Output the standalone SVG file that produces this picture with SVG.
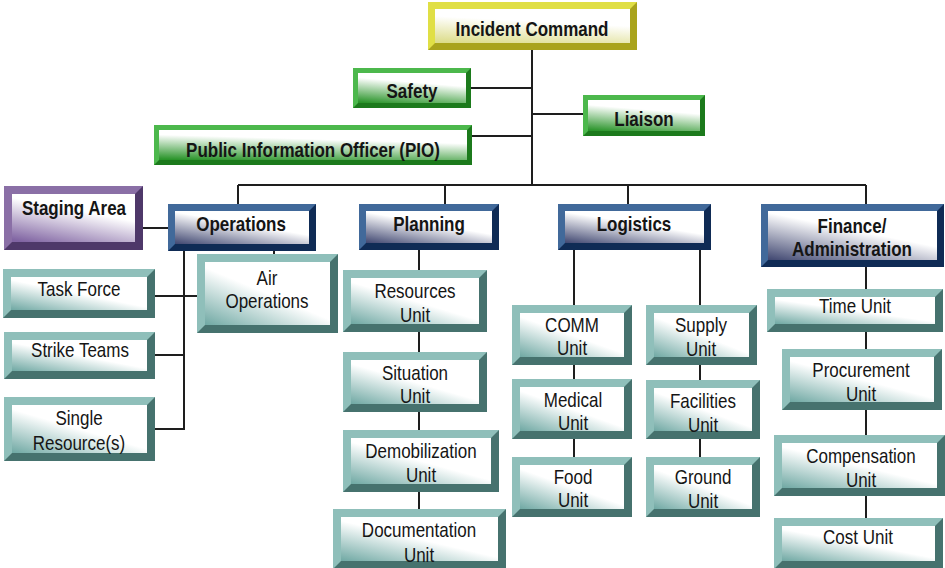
<svg xmlns="http://www.w3.org/2000/svg" width="945" height="568" viewBox="0 0 945 568">
<defs>
<linearGradient id="gTeal" x1="0" y1="1" x2="0.75" y2="0.1"><stop offset="0" stop-color="#6fa8a3"/><stop offset="0.6" stop-color="#ffffff"/><stop offset="1" stop-color="#ffffff"/></linearGradient>
<linearGradient id="gNavy" x1="0" y1="1" x2="0.7" y2="0"><stop offset="0" stop-color="#3f4670"/><stop offset="0.65" stop-color="#ffffff"/><stop offset="1" stop-color="#ffffff"/></linearGradient>
<linearGradient id="gGreen" x1="0.1" y1="1" x2="0.4" y2="0"><stop offset="0" stop-color="#2a942a"/><stop offset="0.75" stop-color="#ffffff"/><stop offset="1" stop-color="#ffffff"/></linearGradient>
<linearGradient id="gYellow" x1="0.1" y1="1" x2="0.4" y2="0"><stop offset="0" stop-color="#dcdc8a"/><stop offset="0.7" stop-color="#ffffff"/><stop offset="1" stop-color="#ffffff"/></linearGradient>
<linearGradient id="gPurple" x1="0.1" y1="1" x2="0.6" y2="0"><stop offset="0" stop-color="#8064a2"/><stop offset="0.7" stop-color="#ffffff"/><stop offset="1" stop-color="#ffffff"/></linearGradient>
</defs>
<style>
.teal .o{fill:#46726e}.teal .l{fill:#8fbfba}.teal .f{fill:url(#gTeal)}
.navy .o{fill:#0f2b55}.navy .l{fill:#41699a}.navy .f{fill:url(#gNavy)}
.green .o{fill:#1c7a1c}.green .l{fill:#4cb84c}.green .f{fill:url(#gGreen)}
.yellow .o{fill:#a9a31c}.yellow .l{fill:#e0df45}.yellow .f{fill:url(#gYellow)}
.purple .o{fill:#4e3869}.purple .l{fill:#8a6fa6}.purple .f{fill:url(#gPurple)}
text{font-family:"Liberation Sans",Arial,sans-serif;font-size:20px;fill:#151515;text-anchor:middle}
text.b{font-weight:bold}
#connectors path{fill:none;stroke:#1e1e1e;stroke-width:2}
</style>
<rect width="945" height="568" fill="#ffffff"/>
<g id="connectors">
<path d="M532 50V185"/>
<path d="M471 88H532"/>
<path d="M532 114H583"/>
<path d="M472 136H532"/>
<path d="M238 185H866"/>
<path d="M238 185V204M445 185V204M628 185V204M866 185V204"/>
<path d="M143 228H168"/>
<path d="M184 251V430"/>
<path d="M155 296H197"/>
<path d="M155 355H184"/>
<path d="M155 429H184"/>
<path d="M274 251V254"/>
<path d="M419 250V509"/>
<path d="M574 250V457"/>
<path d="M700 250V457"/>
<path d="M866 267V518"/>
</g>
<g id="incident-command" class="yellow"><rect class="o" x="428" y="2" width="209" height="48"/><polygon class="l" points="428,2 637,2 630,9 435,9 435,43 428,50"/><rect class="f" x="435" y="9" width="195" height="34"/><text class="b" transform="translate(532 36) scale(.85 1)">Incident Command</text></g>
<g id="safety" class="green"><rect class="o" x="353" y="68" width="118" height="40"/><polygon class="l" points="353,68 471,68 466,73 358,73 358,103 353,108"/><rect class="f" x="358" y="73" width="108" height="30"/><text class="b" transform="translate(412 98) scale(.85 1)">Safety</text></g>
<g id="liaison" class="green"><rect class="o" x="583" y="95" width="122" height="41"/><polygon class="l" points="583,95 705,95 700,100 588,100 588,131 583,136"/><rect class="f" x="588" y="100" width="112" height="31"/><text class="b" transform="translate(644 126) scale(.85 1)">Liaison</text></g>
<g id="pio" class="green"><rect class="o" x="154" y="125" width="318" height="40"/><polygon class="l" points="154,125 472,125 467,130 159,130 159,160 154,165"/><rect class="f" x="159" y="130" width="308" height="30"/><text class="b" transform="translate(313 157) scale(.85 1)">Public Information Officer (PIO)</text></g>
<g id="staging-area" class="purple"><rect class="o" x="4" y="186" width="139" height="64"/><polygon class="l" points="4,186 143,186 135,194 12,194 12,242 4,250"/><rect class="f" x="12" y="194" width="123" height="48"/><text class="b" transform="translate(74 215) scale(.85 1)">Staging Area</text></g>
<g id="operations" class="navy"><rect class="o" x="168" y="204" width="148" height="47"/><polygon class="l" points="168,204 316,204 309,211 175,211 175,244 168,251"/><rect class="f" x="175" y="211" width="134" height="33"/><text class="b" transform="translate(241 231) scale(.85 1)">Operations</text></g>
<g id="planning" class="navy"><rect class="o" x="359" y="204" width="140" height="46"/><polygon class="l" points="359,204 499,204 492,211 366,211 366,243 359,250"/><rect class="f" x="366" y="211" width="126" height="32"/><text class="b" transform="translate(429 231) scale(.85 1)">Planning</text></g>
<g id="logistics" class="navy"><rect class="o" x="558" y="204" width="153" height="46"/><polygon class="l" points="558,204 711,204 704,211 565,211 565,243 558,250"/><rect class="f" x="565" y="211" width="139" height="32"/><text class="b" transform="translate(634 231) scale(.85 1)">Logistics</text></g>
<g id="finance-administration" class="navy"><rect class="o" x="761" y="204" width="183" height="63"/><polygon class="l" points="761,204 944,204 937,211 768,211 768,260 761,267"/><rect class="f" x="768" y="211" width="169" height="49"/><text class="b" transform="translate(852 233) scale(.85 1)"><tspan x="0">Finance/</tspan><tspan x="0" dy="23">Administration</tspan></text></g>
<g id="air-operations" class="teal"><rect class="o" x="197" y="254" width="141" height="79"/><polygon class="l" points="197,254 338,254 330,262 205,262 205,325 197,333"/><rect class="f" x="205" y="262" width="125" height="63"/><text transform="translate(267 285) scale(.85 1)"><tspan x="0">Air</tspan><tspan x="0" dy="23">Operations</tspan></text></g>
<g id="task-force" class="teal"><rect class="o" x="3" y="269" width="152" height="49"/><polygon class="l" points="3,269 155,269 147,277 11,277 11,310 3,318"/><rect class="f" x="11" y="277" width="136" height="33"/><text transform="translate(79 296) scale(.85 1)">Task Force</text></g>
<g id="strike-teams" class="teal"><rect class="o" x="4" y="332" width="151" height="47"/><polygon class="l" points="4,332 155,332 147,340 12,340 12,371 4,379"/><rect class="f" x="12" y="340" width="135" height="31"/><text transform="translate(80 357) scale(.85 1)">Strike Teams</text></g>
<g id="single-resources" class="teal"><rect class="o" x="4" y="397" width="151" height="64"/><polygon class="l" points="4,397 155,397 147,405 12,405 12,453 4,461"/><rect class="f" x="12" y="405" width="135" height="48"/><text transform="translate(79 425) scale(.85 1)"><tspan x="0">Single</tspan><tspan x="0" dy="25">Resource(s)</tspan></text></g>
<g id="resources-unit" class="teal"><rect class="o" x="343" y="270" width="144" height="62"/><polygon class="l" points="343,270 487,270 479,278 351,278 351,324 343,332"/><rect class="f" x="351" y="278" width="128" height="46"/><text transform="translate(415 298) scale(.85 1)"><tspan x="0">Resources</tspan><tspan x="0" dy="24">Unit</tspan></text></g>
<g id="situation-unit" class="teal"><rect class="o" x="343" y="352" width="144" height="60"/><polygon class="l" points="343,352 487,352 479,360 351,360 351,404 343,412"/><rect class="f" x="351" y="360" width="128" height="44"/><text transform="translate(415 380) scale(.85 1)"><tspan x="0">Situation</tspan><tspan x="0" dy="23">Unit</tspan></text></g>
<g id="demobilization-unit" class="teal"><rect class="o" x="343" y="430" width="156" height="62"/><polygon class="l" points="343,430 499,430 491,438 351,438 351,484 343,492"/><rect class="f" x="351" y="438" width="140" height="46"/><text transform="translate(421 458) scale(.85 1)"><tspan x="0">Demobilization</tspan><tspan x="0" dy="24">Unit</tspan></text></g>
<g id="documentation-unit" class="teal"><rect class="o" x="333" y="509" width="173" height="60"/><polygon class="l" points="333,509 506,509 498,517 341,517 341,561 333,569"/><rect class="f" x="341" y="517" width="157" height="44"/><text transform="translate(419 537) scale(.85 1)"><tspan x="0">Documentation</tspan><tspan x="0" dy="25">Unit</tspan></text></g>
<g id="comm-unit" class="teal"><rect class="o" x="512" y="305" width="120" height="60"/><polygon class="l" points="512,305 632,305 624,313 520,313 520,357 512,365"/><rect class="f" x="520" y="313" width="104" height="44"/><text transform="translate(572 332) scale(.85 1)"><tspan x="0">COMM</tspan><tspan x="0" dy="23">Unit</tspan></text></g>
<g id="medical-unit" class="teal"><rect class="o" x="512" y="379" width="120" height="60"/><polygon class="l" points="512,379 632,379 624,387 520,387 520,431 512,439"/><rect class="f" x="520" y="387" width="104" height="44"/><text transform="translate(573 407) scale(.85 1)"><tspan x="0">Medical</tspan><tspan x="0" dy="23">Unit</tspan></text></g>
<g id="food-unit" class="teal"><rect class="o" x="512" y="457" width="120" height="60"/><polygon class="l" points="512,457 632,457 624,465 520,465 520,509 512,517"/><rect class="f" x="520" y="465" width="104" height="44"/><text transform="translate(573 484) scale(.85 1)"><tspan x="0">Food</tspan><tspan x="0" dy="23">Unit</tspan></text></g>
<g id="supply-unit" class="teal"><rect class="o" x="646" y="305" width="111" height="60"/><polygon class="l" points="646,305 757,305 749,313 654,313 654,357 646,365"/><rect class="f" x="654" y="313" width="95" height="44"/><text transform="translate(701 332) scale(.85 1)"><tspan x="0">Supply</tspan><tspan x="0" dy="24">Unit</tspan></text></g>
<g id="facilities-unit" class="teal"><rect class="o" x="646" y="380" width="114" height="59"/><polygon class="l" points="646,380 760,380 752,388 654,388 654,431 646,439"/><rect class="f" x="654" y="388" width="98" height="43"/><text transform="translate(703 408) scale(.85 1)"><tspan x="0">Facilities</tspan><tspan x="0" dy="24">Unit</tspan></text></g>
<g id="ground-unit" class="teal"><rect class="o" x="646" y="457" width="114" height="60"/><polygon class="l" points="646,457 760,457 752,465 654,465 654,509 646,517"/><rect class="f" x="654" y="465" width="98" height="44"/><text transform="translate(703 484) scale(.85 1)"><tspan x="0">Ground</tspan><tspan x="0" dy="24">Unit</tspan></text></g>
<g id="time-unit" class="teal"><rect class="o" x="767" y="289" width="176" height="43"/><polygon class="l" points="767,289 943,289 935,297 775,297 775,324 767,332"/><rect class="f" x="775" y="297" width="160" height="27"/><text transform="translate(855 313) scale(.85 1)">Time Unit</text></g>
<g id="procurement-unit" class="teal"><rect class="o" x="782" y="349" width="160" height="61"/><polygon class="l" points="782,349 942,349 934,357 790,357 790,402 782,410"/><rect class="f" x="790" y="357" width="144" height="45"/><text transform="translate(861 377) scale(.85 1)"><tspan x="0">Procurement</tspan><tspan x="0" dy="24">Unit</tspan></text></g>
<g id="compensation-unit" class="teal"><rect class="o" x="774" y="435" width="171" height="61"/><polygon class="l" points="774,435 945,435 937,443 782,443 782,488 774,496"/><rect class="f" x="782" y="443" width="155" height="45"/><text transform="translate(861 463) scale(.85 1)"><tspan x="0">Compensation</tspan><tspan x="0" dy="24">Unit</tspan></text></g>
<g id="cost-unit" class="teal"><rect class="o" x="774" y="518" width="169" height="51"/><polygon class="l" points="774,518 943,518 935,526 782,526 782,561 774,569"/><rect class="f" x="782" y="526" width="153" height="35"/><text transform="translate(858 544) scale(.85 1)">Cost Unit</text></g>
</svg>
